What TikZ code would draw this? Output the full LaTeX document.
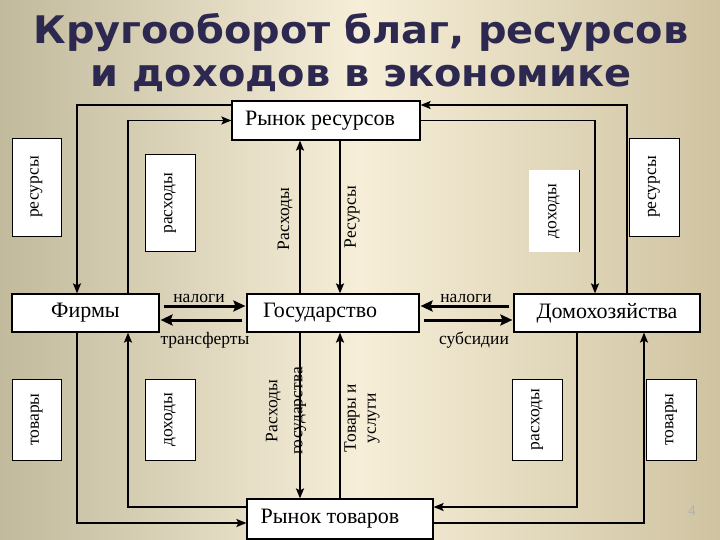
\documentclass[tikz,border=0pt]{standalone}
\usepackage{fontspec}
\setmainfont{Liberation Serif}
\newfontfamily\titlefont{DejaVu Sans}[FakeStretch=1.05]
\newfontfamily\numfont{Liberation Sans}
\usetikzlibrary{arrows.meta}

\definecolor{bgedge}{RGB}{193,186,156}
\definecolor{bgmid}{RGB}{246,238,216}
\definecolor{bgright}{RGB}{207,195,161}
\definecolor{titleink}{RGB}{44,40,80}

\begin{document}
\begin{tikzpicture}[x=1pt, y=-1pt,
  every node/.style={font=\fontsize{17.5}{17.5}\selectfont, inner sep=0pt},
  mainbox/.style={draw, fill=white, line width=1.2pt, font=\fontsize{22}{24}\selectfont},
  tagbox/.style={draw, fill=white, line width=0.8pt, rotate=90},
  flow/.style={line width=1.6pt, -{Stealth[length=10pt,width=8pt,inset=2pt]}},
  govflow/.style={flow, line width=2pt},
  money/.style={line width=3pt, -{Stealth[length=12pt,width=11pt,inset=2pt]}, shorten <=4pt, shorten >=1pt}]

% =========================
% BACKGROUND AND TITLE
% =========================
\shade[left color=bgedge, right color=bgright, middle color=bgmid] (0,0) rectangle (720,540);

\node[font=\titlefont\bfseries\fontsize{38}{43}\selectfont, text=titleink, align=center] (title) at (361,53)
  {Кругооборот благ, ресурсов\\и доходов в экономике};

% =========================
% MAIN BOXES
% =========================
\node[mainbox, minimum width=188pt, minimum height=39pt] (rr) at (326,120.5) {Рынок ресурсов\hspace*{12pt}};
\node[mainbox, minimum width=147pt, minimum height=38pt] (fir) at (85.5,313) {Фирмы};
\node[mainbox, minimum width=172pt, minimum height=38pt] (gov) at (333,313) {Государство\hspace*{26pt}};
\node[mainbox, minimum width=186pt, minimum height=38pt] (hh) at (607,313) {Домохозяйства};
\node[mainbox, minimum width=186pt, minimum height=40pt] (rt) at (340,519) {Рынок товаров\hspace*{20pt}};

% columns and rows of the flows
\coordinate (colA) at (77,0);
\coordinate (colB) at (128,0);
\coordinate (colG) at (300,0);
\coordinate (colH) at (340,0);
\coordinate (colC) at (595,0);
\coordinate (colD) at (627,0);
\coordinate (colE) at (577,0);
\coordinate (colF) at (644,0);
\coordinate (rowA) at (0,105);
\coordinate (rowN) at (0,306);
\coordinate (rowS) at (0,320);
\coordinate (rowF) at (0,507);
\coordinate (rowE) at (0,523);

% =========================
% UPPER LOOP
% =========================
\draw[flow] (rr.west |- rowA) -| (fir.north -| colA);
\draw[flow] (fir.north -| colB) |- (rr.west);
\draw[govflow] (gov.north -| colG) -- (rr.south -| colG);
\draw[govflow] (rr.south -| colH) -- (gov.north -| colH);
\draw[flow] (rr.east) -| (hh.north -| colC);
\draw[flow] (hh.north -| colD) |- (rr.east |- rowA);

% =========================
% MIDDLE FLOWS
% =========================
\draw[money] (fir.east |- rowN) -- (gov.west |- rowN);
\draw[money] (gov.west |- rowS) -- (fir.east |- rowS);
\draw[money] (hh.west |- rowN) -- (gov.east |- rowN);
\draw[money] (gov.east |- rowS) -- (hh.west |- rowS);

\node[anchor=base] (taxF) at (199,302) {налоги};
\node[anchor=base] (trans) at (205,344) {трансферты};
\node[anchor=base] (taxH) at (466,302) {налоги};
\node[anchor=base] (subs) at (474,344) {субсидии};

% =========================
% LOWER LOOP
% =========================
\draw[flow] (fir.south -| colA) |- (rt.west |- rowE);
\draw[flow] (rt.west |- rowF) -| (fir.south -| colB);
\draw[govflow] (gov.south -| colG) -- (rt.north -| colG);
\draw[govflow] (rt.north -| colH) -- (gov.south -| colH);
\draw[flow] (hh.south -| colE) |- (rt.east |- rowF);
\draw[flow] (rt.east |- rowE) -| (hh.south -| colF);

% =========================
% TAGS
% =========================
\node[tagbox, minimum width=98pt, minimum height=49pt] (resL) at (36.5,187) {ресурсы};
\node[tagbox, minimum width=97pt, minimum height=50pt] (expL) at (170,203) {расходы};
\node[tagbox, draw=none, minimum width=82pt, minimum height=50pt] (incR) at (554,211) {доходы};
\draw[line width=0.8pt] (incR.south west) -- (incR.south east);
\node[tagbox, minimum width=98pt, minimum height=50pt] (resR) at (654,187) {ресурсы};

\node[rotate=90] (govExp) at (285,219) {Расходы};
\node[rotate=90] (govRes) at (352,217) {Ресурсы};

\node[tagbox, minimum width=81pt, minimum height=49pt] (goodsL) at (36.5,419.5) {товары};
\node[tagbox, minimum width=81pt, minimum height=50pt] (incL) at (170,419.5) {доходы};
\node[tagbox, minimum width=81pt, minimum height=50pt] (expR) at (537,419.5) {расходы};
\node[tagbox, minimum width=81pt, minimum height=50pt] (goodsR) at (671,419.5) {товары};

\node[rotate=90, align=center, font=\fontsize{17.5}{25}\selectfont] (govBuy) at (286,411) {Расходы\\государства};
\node[rotate=90, align=center, font=\fontsize{17.5}{20}\selectfont] (govGot) at (362,418) {Товары и\\услуги};

% page number
\node[text=gray!60, font=\numfont\fontsize{14}{14}\selectfont] (pnum) at (692,511) {4};

\end{tikzpicture}
\end{document}
